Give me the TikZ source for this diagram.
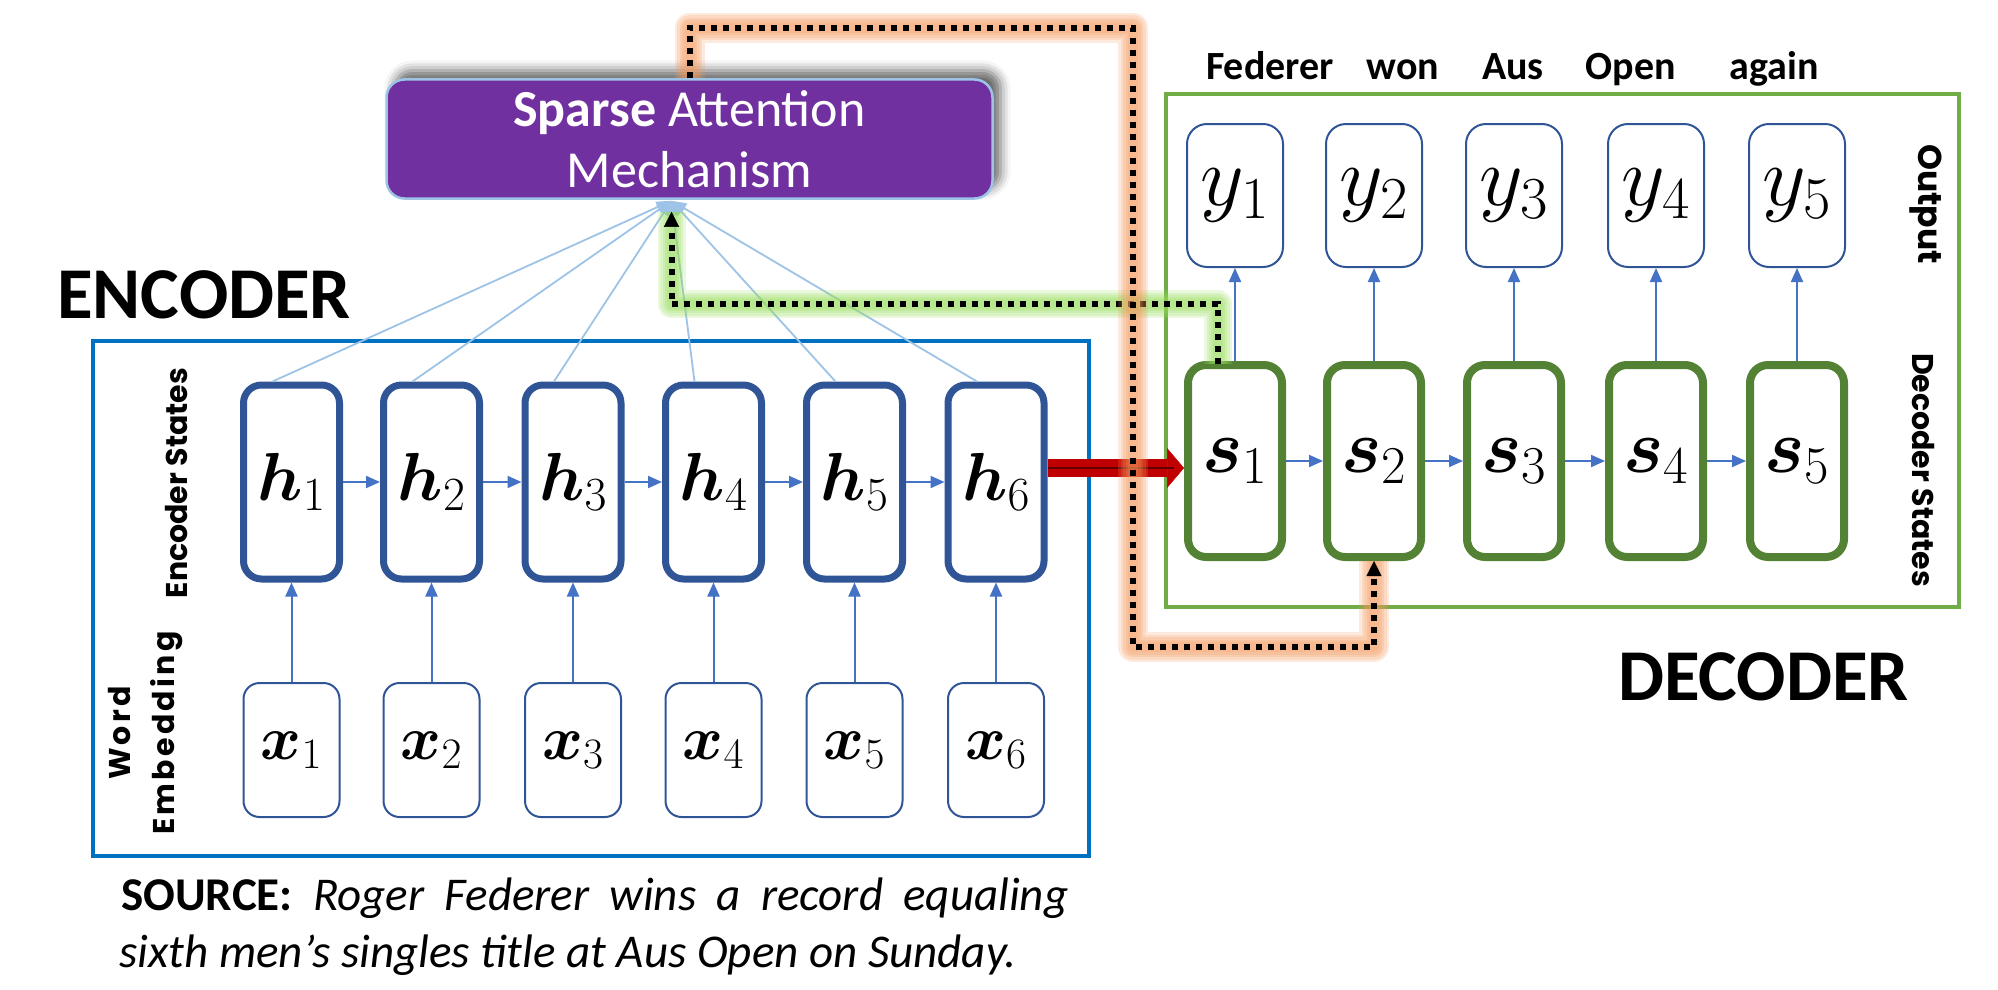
\RequirePackage{fix-cm}
\documentclass[tikz,border=0pt]{standalone}
\usepackage{amsmath,bm}
\usepackage{fontspec}
\setmainfont{Carlito}
\newfontfamily\labfont{Poppins}
\newfontfamily\labfontw{Poppins}[LetterSpace=11]
\usetikzlibrary{arrows.meta,shadows.blur}
\definecolor{hblue}{HTML}{2F5597}
\definecolor{ablue}{HTML}{4472C4}
\definecolor{lblue}{HTML}{9DC3E6}
\definecolor{encblue}{HTML}{0070C0}
\definecolor{decgreen}{HTML}{70AD47}
\definecolor{sgreen}{HTML}{548235}
\definecolor{purp}{HTML}{7030A0}
\definecolor{redarr}{HTML}{C00000}
\definecolor{redcore}{HTML}{600000}
\definecolor{ogl}{RGB}{244,150,90}
\definecolor{ggl}{RGB}{150,220,90}
\begin{document}
\begin{tikzpicture}[x=1pt,y=-1pt,
  hbox/.style={draw=hblue, line width=7pt, rounded corners=18pt, minimum width=96pt, minimum height=194pt, inner sep=0pt, fill=white, font=\fontsize{68}{70}\selectfont},
  sbox/.style={draw=sgreen, line width=8pt, rounded corners=18pt, minimum width=94pt, minimum height=192pt, inner sep=0pt, fill=white, font=\fontsize{76}{80}\selectfont},
  xbox/.style={draw=hblue, line width=2pt, rounded corners=16pt, minimum width=96pt, minimum height=134pt, inner sep=0pt, font=\fontsize{62}{66}\selectfont},
  ybox/.style={draw=hblue, line width=2pt, rounded corners=20pt, minimum width=96pt, minimum height=143pt, inner sep=0pt, font=\fontsize{85}{90}\selectfont},
  barrow/.style={draw=ablue, line width=2pt, -{Triangle[length=14pt,width=12pt]}},
  attline/.style={draw=lblue, line width=1.8pt, -{Triangle[length=15pt,width=11pt]}},
  encframe/.style={draw=encblue, line width=3.5pt},
  decframe/.style={draw=decgreen, line width=3.5pt},
  bigtitle/.style={inner sep=0pt, font=\fontsize{73}{80}\selectfont\bfseries},
  sidelab/.style={inner sep=0pt, align=center, font=\labfont\fontsize{30}{46}\selectfont\bfseries},
  sidelabw/.style={inner sep=0pt, align=center, font=\labfontw\fontsize{30}{44}\selectfont\bfseries},
  word/.style={inner sep=0pt, anchor=base, font=\fontsize{40}{44}\selectfont\bfseries},
  srcfont/.style={inner sep=0pt, anchor=base west, font=\fontsize{47}{57}\selectfont},
  attbox/.style={fill=purp, draw=lblue, line width=2.5pt, rounded corners=18pt, minimum width=606pt, minimum height=119pt, text=white, align=center, font=\fontsize{52}{61}\selectfont, blur shadow={shadow xshift=8pt, shadow yshift=9pt, shadow blur radius=10pt, shadow opacity=60}},
  redarrow/.style={draw=redarr, line width=18pt, -{Triangle[length=17pt,width=40pt,line width=0.5pt]}},
  redline/.style={draw=redcore, line width=1.5pt},
  dotarrow/.style={draw=black, line width=6pt, dash pattern=on 6pt off 6pt, -{Triangle[length=15pt,width=15pt,line width=0.5pt]}},
  glowlayer/.style={draw=#1, solid, arrows=-, line cap=butt, line join=round, draw opacity=.2},
  oglow/.style={preaction={glowlayer=ogl, line width=30pt},
                preaction={glowlayer=ogl, line width=25pt},
                preaction={glowlayer=ogl, line width=20pt},
                preaction={glowlayer=ogl, line width=15pt},
                preaction={glowlayer=ogl, line width=10pt}},
  gglow/.style={preaction={glowlayer=ggl, line width=28pt},
                preaction={glowlayer=ggl, line width=23pt},
                preaction={glowlayer=ggl, line width=18pt},
                preaction={glowlayer=ggl, line width=14pt},
                preaction={glowlayer=ggl, line width=10pt}}
]
\useasboundingbox (0,0) rectangle (1998,990);

% frames
\draw[encframe] (93,341) rectangle (1089,856);
\draw[decframe] (1166,94) rectangle (1959,607);

% titles and side labels
\node[bigtitle, anchor=base west] (enclab) at (57,318) {ENCODER};
\node[bigtitle, anchor=base west] (declab) at (1618,700) {DECODER};
\node[sidelab, rotate=90] (eslab) at (177,483) {Encoder States};
\node[sidelabw, rotate=90] (welab) at (146,733) {Word\\Embedding};
\node[sidelab, rotate=-90, font=\labfont\fontsize{33}{40}\selectfont\bfseries] (outlab) at (1926,204) {Output};
\node[sidelab, rotate=-90] (dslab) at (1923,470) {Decoder States};

% encoder boxes
\foreach \i/\x in {1/291.5,2/431.5,3/573,4/713.5,5/854.5,6/996}{
  \node[hbox] (h\i) at (\x,482) {$\bm{h}_{\i}$};
  \node[xbox] (x\i) at (\x,750) {$\bm{x}_{\i}$};
}
% decoder boxes
\foreach \i/\x in {1/1235,2/1374,3/1514,4/1656,5/1797}{
  \node[sbox] (s\i) at (\x,461) {$\bm{s}_{\i}$};
  \node[ybox] (y\i) at (\x,195.5) {$y_{\i}$};
}

% output words
\node[word] (w1) at (1270,80) {Federer};
\node[word] (w2) at (1403,80) {won};
\node[word] (w3) at (1513,80) {Aus};
\node[word] (w4) at (1631,80) {Open};
\node[word] (w5) at (1774,80) {again};

% arrows
\foreach \i in {1,...,6}{ \draw[barrow] (x\i.north) -- (h\i.south); }
\foreach \i [evaluate=\i as \j using int(\i+1)] in {1,...,5}{ \draw[barrow] (h\i.east) -- (h\j.west); }
\foreach \i [evaluate=\i as \j using int(\i+1)] in {1,...,4}{ \draw[barrow] (s\i.east) -- (s\j.west); }
\foreach \i in {1,...,5}{ \draw[barrow] (s\i.north) -- (y\i.south); }

% attention box
\node[attbox] (attn) at (689.5,139) {\textbf{Sparse} Attention\\Mechanism};
\coordinate (conv) at ([xshift=-18pt,yshift=-1pt]attn.south);
\foreach \i in {1,...,6}{ \draw[attline] ([xshift=-19pt]h\i.north) -- (conv); }

% red arrow
\coordinate (redstart) at ([yshift=14pt]h6.east);
\draw[redarrow] (redstart) -- (s1.west |- redstart);
\draw[redline] (redstart) -- ([xshift=-10pt]s1.west |- redstart);

% glowing dotted paths
\draw[gglow, dotarrow] ([xshift=-17pt,yshift=-3pt]s1.north) -- ++(0,-60) -| ([xshift=-18pt,yshift=-12pt]attn.south);
\draw[oglow, dotarrow] (attn.north) |- (1133,28) |- ([yshift=-86pt]s2.south) -- (s2.south);

% source text
\node[srcfont] (src1) at (121,910) {\makebox[947pt][s]{\textbf{SOURCE:} \textit{Roger Federer wins a record equaling}}};
\node[srcfont] (src2) at (119,967) {\textit{sixth men’s singles title at Aus Open on Sunday.}};
\end{tikzpicture}
\end{document}
